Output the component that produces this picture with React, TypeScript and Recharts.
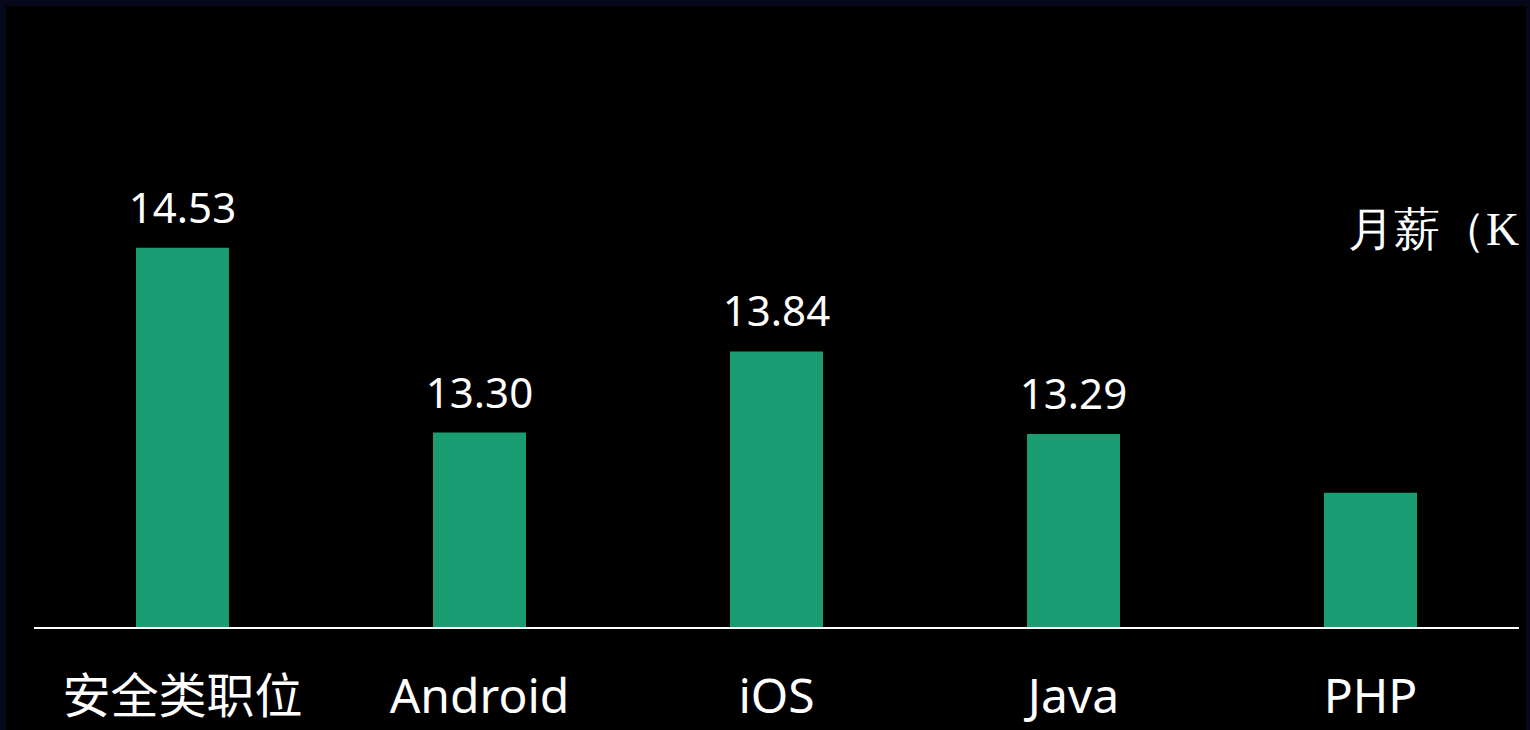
import React from 'react';
import { BarChart, Bar, XAxis, YAxis, LabelList } from 'recharts';

const categories = ['安全类职位', 'Android', 'iOS', 'Java', 'PHP'];
const salaries = [14.53, 13.3, 13.84, 13.29, 12.9];
const valueLabels = ['14.53', '13.30', '13.84', '13.29', ''];
const yDomain: [number, number] = [12, 15];
const unitTitle = '月薪（K）';

const data = categories.map((c, i) => ({ name: c, value: salaries[i], label: valueLabels[i] }));

const FONT = '"Noto Sans", "Noto Sans CJK SC", sans-serif';

const Tick = (props: any) => {
  const { x, y, payload } = props;
  return (
    <text x={x} y={y + 77} textAnchor="middle" fill="#ffffff" fontSize={48} fontFamily={FONT}>
      {payload.value}
    </text>
  );
};

export default function App() {
  return (
    <div style={{ position: 'absolute', left: 0, top: 0, width: 1530, height: 730, background: '#040818', overflow: 'hidden' }}>
      <div style={{ position: 'absolute', left: 6, top: 6, width: 1520, height: 724, background: '#000', overflow: 'hidden' }}>
        <BarChart width={1520} height={724} data={data} margin={{ top: 171, right: 7, left: 28, bottom: 42 }}>
          <YAxis hide domain={yDomain} allowDataOverflow />
          <XAxis
            dataKey="name"
            height={60}
            interval={0}
            tickLine={false}
            axisLine={{ stroke: '#ffffff', strokeWidth: 2 }}
            tick={<Tick />}
          />
          <Bar dataKey="value" fill="#1b9d73" barSize={93} isAnimationActive={false}>
            <LabelList dataKey="label" position="top" offset={25} fill="#ffffff" fontSize={42} fontFamily={FONT} />
          </Bar>
        </BarChart>
        <div
          style={{
            position: 'absolute',
            left: 1342,
            top: 196,
            fontSize: 46,
            lineHeight: '56px',
            color: '#fff',
            fontFamily: 'serif',
            whiteSpace: 'nowrap',
          }}
        >
          {unitTitle}
        </div>
      </div>
    </div>
  );
}
